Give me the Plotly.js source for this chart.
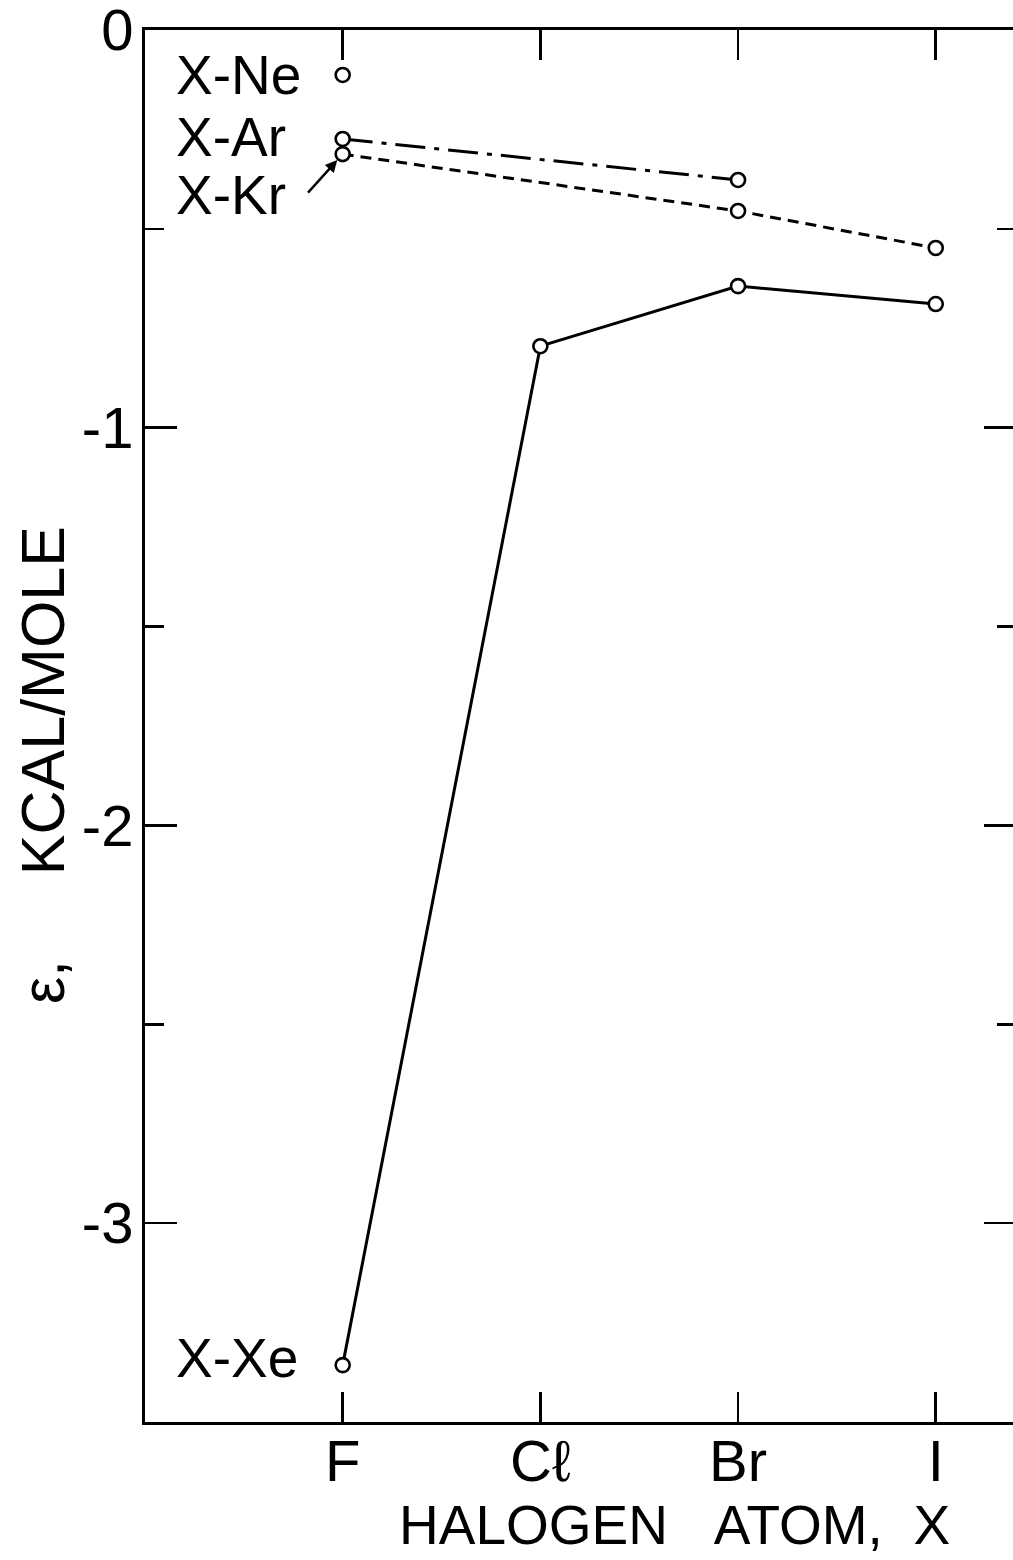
<!DOCTYPE html>
<html>
<head>
<meta charset="utf-8">
<script src="https://cdn.plot.ly/plotly-3.0.1.min.js"></script>
<style>
html,body{margin:0;padding:0;overflow:hidden;background:#fff;}
#chart{width:1016px;height:1560px;}
</style>
</head>
<body>
<div id="chart"></div>
<script>
// Category positions and labels
const halogenPos = [1, 2, 3, 4];
const halogenLabels = ['F', 'Cℓ', 'Br', 'I'];

// Series (epsilon, kcal/mole)
const neX = [1];
const neY = [-0.113];
const arX = [1, 3];
const arY = [-0.274, -0.377];
const krX = [1, 3, 4];
const krY = [-0.312, -0.455, -0.548];
const xeX = [1, 2, 3, 4];
const xeY = [-3.357, -0.795, -0.644, -0.689];

// Y tick labels
const yTickVals = [0, -1, -2, -3];
const yTickText = ['0', '-1', '-2', '-3'];

const FONT = 'Liberation Sans, Arial, sans-serif';
const NB = '\u00a0';
const marker = {symbol: 'circle', size: 14, color: '#fff', line: {color: '#000', width: 2.6}};

const traces = [
  {x: neX, y: neY, mode: 'markers', marker: marker, name: 'X-Ne'},
  {x: arX, y: arY, mode: 'lines+markers', marker: marker, line: {color: '#000', width: 3, dash: '30px,9px,5px,9px'}, name: 'X-Ar'},
  {x: krX, y: krY, mode: 'lines+markers', marker: marker, line: {color: '#000', width: 3, dash: '11px,7px'}, name: 'X-Kr'},
  {x: xeX, y: xeY, mode: 'lines+markers', marker: marker, line: {color: '#000', width: 3}, name: 'X-Xe'}
];

const labFont = {family: FONT, size: 55, color: '#000'};

const layout = {
  width: 1016, height: 1560,
  margin: {l: 145, r: 0, t: 30, b: 138},
  paper_bgcolor: '#fff', plot_bgcolor: '#fff',
  showlegend: false,
  font: {family: FONT, color: '#000'},
  xaxis: {
    range: [0, 4.406],
    tickvals: halogenPos, ticktext: halogenLabels,
    ticks: 'inside', ticklen: 30, tickwidth: 2.5, tickcolor: '#000',
    showline: true, linewidth: 3, linecolor: '#000', mirror: 'ticks',
    showgrid: false, zeroline: false,
    tickfont: {family: FONT, size: 58, color: '#000'},
    ticklabelstandoff: -14,
    ticklabeloverflow: 'allow'
  },
  yaxis: {
    range: [-3.5, 0],
    tickvals: yTickVals, ticktext: yTickText,
    ticks: 'inside', ticklen: 32, tickwidth: 2.5, tickcolor: '#000',
    minor: {tickvals: [-0.5, -1.5, -2.5], ticks: 'inside', ticklen: 19, tickwidth: 2.5, tickcolor: '#000'},
    showline: true, linewidth: 3, linecolor: '#000', mirror: 'ticks',
    showgrid: false, zeroline: false,
    tickfont: {family: FONT, size: 58, color: '#000'},
    ticklabelstandoff: -3,
    ticklabeloverflow: 'allow'
  },
  annotations: [
    {text: 'X-Ne', xref: 'paper', yref: 'y', x: 0.033, y: neY[0], xanchor: 'left', yanchor: 'middle', showarrow: false, font: labFont},
    {text: 'X-Ar', xref: 'paper', yref: 'y', x: 0.033, y: -0.27, xanchor: 'left', yanchor: 'middle', showarrow: false, font: labFont},
    {text: 'X-Kr', xref: 'paper', yref: 'y', x: 0.033, y: -0.415, xanchor: 'left', yanchor: 'middle', showarrow: false, font: labFont},
    {text: 'X-Xe', xref: 'paper', yref: 'y', x: 0.033, y: -3.34, xanchor: 'left', yanchor: 'middle', showarrow: false, font: labFont},
    {text: '', x: krX[0], y: krY[0], xref: 'x', yref: 'y', showarrow: true, ax: -36, ay: 40, arrowhead: 2, arrowsize: 1, arrowwidth: 2.4, arrowcolor: '#000', standoff: 8},
    {text: 'HALOGEN' + NB + NB + NB + 'ATOM,' + NB + NB + 'X', xref: 'paper', yref: 'paper', x: 0.608, y: -0.0975, xanchor: 'center', yanchor: 'bottom', showarrow: false, font: {family: FONT, size: 55, color: '#000'}},
    {text: 'ε,' + NB + NB + NB + NB + NB + 'KCAL/MOLE', textangle: -90, xref: 'paper', yref: 'paper', x: -0.117, y: 0.472, xanchor: 'center', yanchor: 'middle', showarrow: false, font: {family: FONT, size: 61, color: '#000'}}
  ]
};

Plotly.newPlot('chart', traces, layout, {displayModeBar: false, staticPlot: true});
</script>
</body>
</html>
